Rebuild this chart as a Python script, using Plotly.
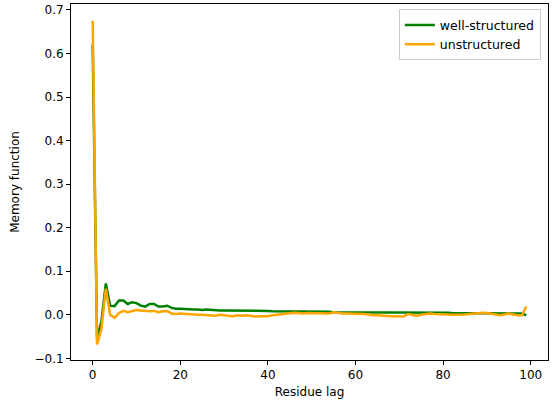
import plotly.graph_objects as go

lags = list(range(100))

well_structured = [
    0.620, -0.055, -0.015, 0.072, 0.021, 0.020, 0.033, 0.033, 0.025, 0.029,
    0.027, 0.021, 0.019, 0.025, 0.025, 0.019, 0.019, 0.021, 0.016, 0.014,
    0.014, 0.013, 0.012, 0.012, 0.012, 0.011, 0.012, 0.011, 0.011, 0.010,
    0.010, 0.010, 0.010, 0.010, 0.009, 0.009, 0.009, 0.009, 0.009, 0.009,
    0.009, 0.008, 0.008, 0.008, 0.008, 0.008, 0.008, 0.008, 0.007, 0.007,
    0.007, 0.007, 0.007, 0.007, 0.007, 0.006, 0.006, 0.006, 0.006, 0.006,
    0.006, 0.006, 0.006, 0.005, 0.005, 0.005, 0.005, 0.005, 0.005, 0.005,
    0.005, 0.005, 0.005, 0.005, 0.005, 0.005, 0.005, 0.005, 0.005, 0.005,
    0.005, 0.005, 0.004, 0.004, 0.004, 0.004, 0.004, 0.004, 0.004, 0.004,
    0.004, 0.004, 0.004, 0.004, 0.003, 0.003, 0.003, 0.003, 0.003, -0.001,
]

unstructured = [
    0.675, -0.068, -0.032, 0.060, 0.000, -0.007, 0.004, 0.009, 0.006, 0.009,
    0.011, 0.010, 0.009, 0.008, 0.009, 0.006, 0.008, 0.009, 0.003, 0.002,
    0.003, 0.002, 0.002, 0.001, 0.000, 0.000, -0.001, -0.001, -0.002, 0.000,
    -0.001, -0.002, -0.003, -0.001, -0.002, -0.001, -0.002, -0.004, -0.003, -0.003,
    -0.003, -0.001, 0.000, 0.002, 0.003, 0.004, 0.005, 0.004, 0.003, 0.004,
    0.004, 0.003, 0.003, 0.003, 0.003, 0.006, 0.004, 0.003, 0.003, 0.003,
    0.002, 0.003, 0.002, 0.001, -0.001, -0.001, -0.002, -0.002, -0.003, -0.003,
    -0.004, -0.004, 0.002, 0.000, -0.002, 0.000, 0.002, 0.003, 0.002, 0.002,
    0.002, 0.001, 0.000, 0.000, 0.001, 0.001, 0.002, 0.003, 0.004, 0.005,
    0.004, 0.002, 0.001, -0.001, 0.001, 0.003, 0.001, -0.001, -0.001, 0.019,
]

x_ticks = [0, 20, 40, 60, 80, 100]
y_ticks = [-0.1, 0.0, 0.1, 0.2, 0.3, 0.4, 0.5, 0.6, 0.7]
y_tick_labels = ["\u22120.1", "0.0", "0.1", "0.2", "0.3", "0.4", "0.5", "0.6", "0.7"]

fig = go.Figure()
fig.add_trace(go.Scatter(x=lags, y=well_structured, mode="lines", name="well-structured",
                         line=dict(color="green", width=2.5)))
fig.add_trace(go.Scatter(x=lags, y=unstructured, mode="lines", name="unstructured",
                         line=dict(color="orange", width=2.5)))

font = "DejaVu Sans, sans-serif"
axis_common = dict(showgrid=False, zeroline=False, showline=True, linecolor="black",
                   linewidth=1, mirror=True, ticks="outside", ticklen=4, tickcolor="black",
                   automargin=False,
                   tickfont=dict(family=font, size=12, color="black"))

fig.update_layout(
    width=558, height=405,
    margin=dict(l=71, r=10, t=4, b=45),
    paper_bgcolor="white", plot_bgcolor="white",
    font=dict(family=font, size=12, color="black"),
    xaxis=dict(range=[-4.95, 103.95], tickvals=x_ticks,
               title=dict(text="Residue lag", standoff=6, font=dict(size=12)), **axis_common),
    yaxis=dict(range=[-0.1037, 0.7137], tickvals=y_ticks, ticktext=y_tick_labels,
               title=dict(text="Memory function", standoff=12, font=dict(size=12)), **axis_common),
    legend=dict(x=0.985, y=0.985, xanchor="right", yanchor="top",
                bgcolor="rgba(255,255,255,0.8)", bordercolor="#cccccc", borderwidth=1,
                font=dict(family=font, size=12.5), itemwidth=30, tracegroupgap=0),
    showlegend=True,
)

fig.write_html("out.html", config={"displayModeBar": False},
               post_script="document.body.style.margin='0';")
